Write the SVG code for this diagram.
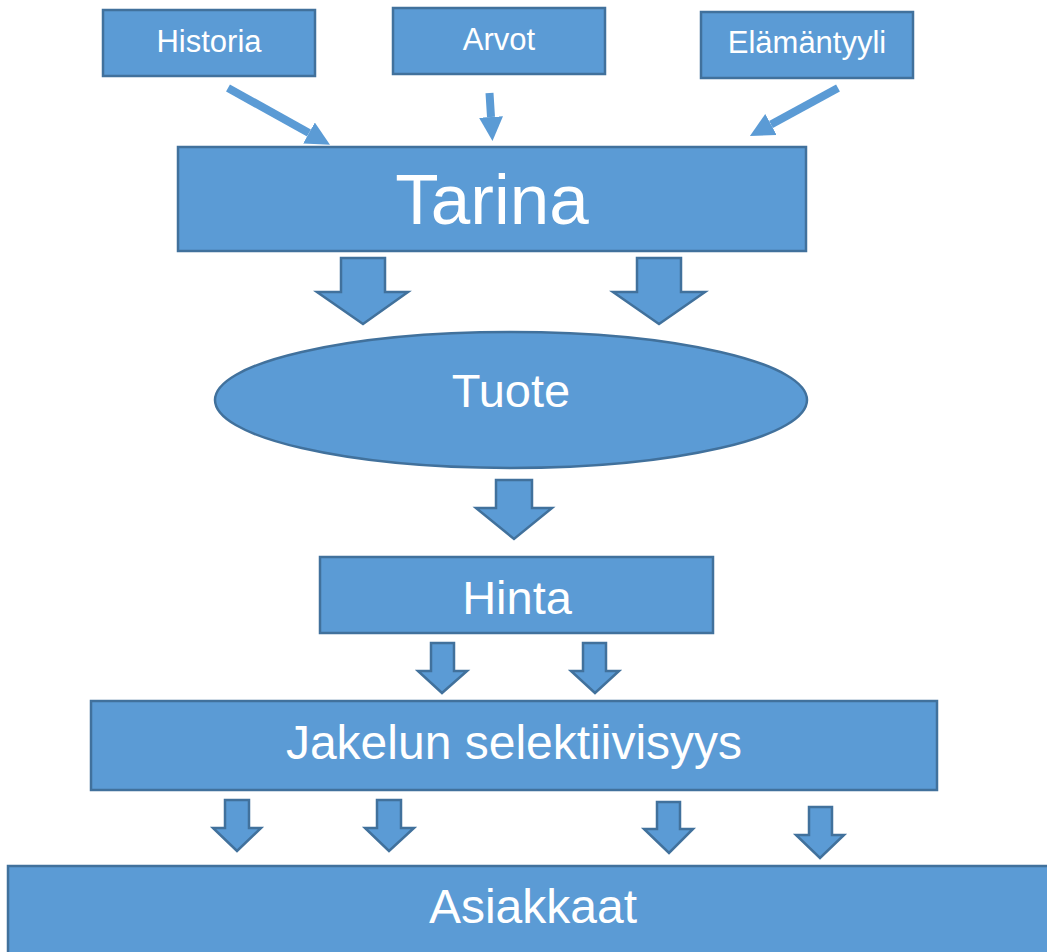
<svg xmlns="http://www.w3.org/2000/svg" width="1047" height="952" viewBox="0 0 1047 952">
<style>
.box{fill:#5B9BD5;stroke:#41719C;stroke-width:2.5}
.blk{fill:#5B9BD5;stroke:#41719C;stroke-width:2.5;stroke-linejoin:miter}
.ln{stroke:#5B9BD5;stroke-width:8;fill:none}
.t{font-family:"Liberation Sans",Arial,sans-serif;fill:#FFFFFF;text-anchor:middle}
.s{font-size:31px}
.m{font-size:47px}
.m2{font-size:48px}
.l{font-size:71px}
</style>
<defs>
<marker id="ah" markerUnits="userSpaceOnUse" markerWidth="24" markerHeight="24" refX="0" refY="12" orient="auto">
<path d="M0,0 L24,12 L0,24 z" fill="#5B9BD5"/>
</marker>
</defs>
<rect width="1047" height="952" fill="#FFFFFF"/>
<g id="historia"><rect class="box" x="103" y="10" width="212" height="66"/><text class="t s" x="209" y="52">Historia</text></g>
<g id="arvot"><rect class="box" x="393" y="8" width="212" height="66"/><text class="t s" x="499" y="50">Arvot</text></g>
<g id="elamantyyli"><rect class="box" x="701" y="12" width="212" height="66"/><text class="t s" x="807" y="53">Elämäntyyli</text></g>
<g id="tarina"><rect class="box" x="178" y="147" width="628" height="104"/><text class="t l" x="492" y="224">Tarina</text></g>
<g id="tuote"><ellipse class="box" cx="511" cy="400" rx="296" ry="68"/><text class="t m" x="511" y="407">Tuote</text></g>
<g id="hinta"><rect class="box" x="320" y="557" width="393" height="76"/><text class="t m" x="517" y="614">Hinta</text></g>
<g id="jakelu"><rect class="box" x="91" y="701" width="846" height="89"/><text class="t m2" x="514" y="759">Jakelun selektiivisyys</text></g>
<g id="asiakkaat"><rect class="box" x="8" y="866" width="1050" height="100"/><text class="t m2" x="533" y="923">Asiakkaat</text></g>
<g id="connectors">
<line class="ln" x1="228" y1="88" x2="309" y2="133" marker-end="url(#ah)"/>
<line class="ln" x1="489.5" y1="93" x2="491" y2="117" marker-end="url(#ah)"/>
<line class="ln" x1="838" y1="88" x2="771" y2="124.5" marker-end="url(#ah)"/>
<polygon class="blk" points="341,258 385,258 385,292 408,292 363,324 317,292 341,292"/>
<polygon class="blk" points="637,258 681,258 681,292 705,292 659,324 613,292 637,292"/>
<polygon class="blk" points="496,480 532,480 532,508 552,508 514,539 476,508 496,508"/>
<polygon class="blk" points="431,643 454,643 454,671 467,671 442,693 418,671 431,671"/>
<polygon class="blk" points="583,643 606,643 606,671 619,671 595,693 571,671 583,671"/>
<polygon class="blk" points="225,800 249,800 249,828 261,828 237,851 213,828 225,828"/>
<polygon class="blk" points="377,800 401,800 401,828 414,828 389,851 365,828 377,828"/>
<polygon class="blk" points="657,802 680,802 680,829 693,829 669,853 644,829 657,829"/>
<polygon class="blk" points="809,807 832,807 832,835 844,835 820,858 796,835 809,835"/>
</g>
</svg>
